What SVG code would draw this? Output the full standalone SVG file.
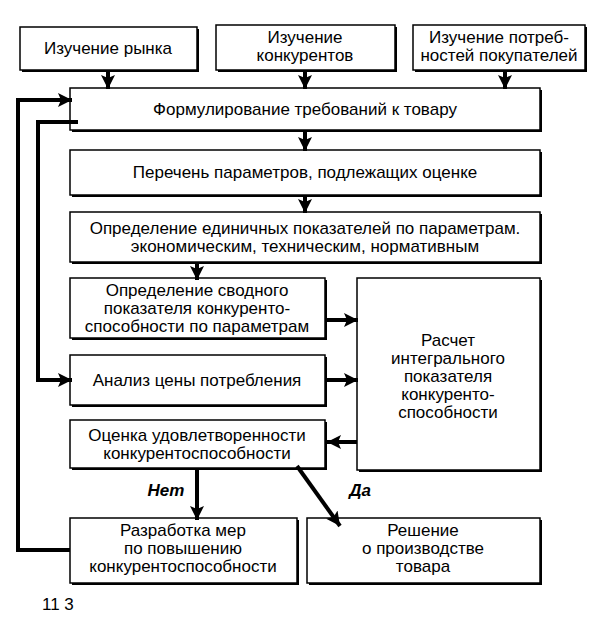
<svg xmlns="http://www.w3.org/2000/svg" width="597" height="628" viewBox="0 0 597 628">
<style>
.box{fill:#fff;stroke:#000;stroke-width:1.5}
.sh{fill:#000}
text{font-family:"Liberation Sans",Arial,sans-serif;font-size:17px;fill:#000;text-anchor:middle}
.lbl{font-weight:bold;font-style:italic;font-size:17px}
.c{fill:none;stroke:#000;stroke-width:4}
</style>
<defs>
<marker id="ah" markerUnits="userSpaceOnUse" markerWidth="16" markerHeight="16" refX="14" refY="8" orient="auto">
<path d="M0,1 L14,8 L0,15 L3,8 Z" fill="#000"/>
</marker>
</defs>
<rect width="597" height="628" fill="#fff"/>
<g id="n1"><rect class="sh" x="22" y="29" width="177" height="43"/><rect class="box" x="20" y="27" width="177" height="43"/><text x="108" y="54">Изучение рынка</text></g>
<g id="n2"><rect class="sh" x="218" y="27" width="179" height="45"/><rect class="box" x="216" y="25" width="179" height="45"/><text x="305" y="43">Изучение</text><text x="305" y="61">конкурентов</text></g>
<g id="n3"><rect class="sh" x="415" y="27" width="172" height="45"/><rect class="box" x="413" y="25" width="172" height="45"/><text x="499" y="43">Изучение потреб-</text><text x="499" y="61">ностей покупателей</text></g>
<g id="n4"><rect class="sh" x="72" y="90" width="470" height="42"/><rect class="box" x="70" y="88" width="470" height="42"/><text x="305" y="115">Формулирование требований к товару</text></g>
<g id="n5"><rect class="sh" x="72" y="152" width="470" height="45"/><rect class="box" x="70" y="150" width="470" height="45"/><text x="305" y="178">Перечень параметров, подлежащих оценке</text></g>
<g id="n6"><rect class="sh" x="72" y="214" width="470" height="50"/><rect class="box" x="70" y="212" width="470" height="50"/><text x="305" y="234">Определение единичных показателей по параметрам.</text><text x="305" y="252">экономическим, техническим, нормативным</text></g>
<g id="n7"><rect class="sh" x="72" y="280" width="255" height="60"/><rect class="box" x="70" y="278" width="255" height="60"/><text x="197" y="296">Определение сводного</text><text x="197" y="314">показателя конкуренто-</text><text x="197" y="332">способности по параметрам</text></g>
<g id="n8"><rect class="sh" x="359" y="280" width="183" height="192"/><rect class="box" x="357" y="278" width="183" height="192"/><text x="448" y="346">Расчет</text><text x="448" y="364">интегрального</text><text x="448" y="382">показателя</text><text x="448" y="400">конкуренто-</text><text x="448" y="418">способности</text></g>
<g id="n9"><rect class="sh" x="72" y="357" width="255" height="50"/><rect class="box" x="70" y="355" width="255" height="50"/><text x="197" y="386">Анализ цены потребления</text></g>
<g id="n10"><rect class="sh" x="72" y="422" width="255" height="48"/><rect class="box" x="70" y="420" width="255" height="48"/><text x="197" y="441">Оценка удовлетворенности</text><text x="197" y="459">конкурентоспособности</text></g>
<g id="n11"><rect class="sh" x="72" y="520" width="227" height="65"/><rect class="box" x="70" y="518" width="227" height="65"/><text x="183" y="536">Разработка мер</text><text x="183" y="554">по повышению</text><text x="183" y="572">конкурентоспособности</text></g>
<g id="n12"><rect class="sh" x="309" y="520" width="233" height="65"/><rect class="box" x="307" y="518" width="233" height="65"/><text x="423" y="536">Решение</text><text x="423" y="554">о производстве</text><text x="423" y="572">товара</text></g>
<g id="connectors">
<path class="c" d="M108,70 V89" marker-end="url(#ah)"/>
<path class="c" d="M305,70 V89" marker-end="url(#ah)"/>
<path class="c" d="M505,70 V89" marker-end="url(#ah)"/>
<path class="c" d="M305,130 V151" marker-end="url(#ah)"/>
<path class="c" d="M305,195 V213" marker-end="url(#ah)"/>
<path class="c" d="M197,262 V280" marker-end="url(#ah)"/>
<path class="c" d="M325,320 H358" marker-end="url(#ah)"/>
<path class="c" d="M325,380 H358" marker-end="url(#ah)"/>
<path class="c" d="M357,442 H327" marker-end="url(#ah)"/>
<path class="c" d="M197,468 V520" marker-end="url(#ah)"/>
<path class="c" d="M297,466 L340,526" marker-end="url(#ah)"/>
<path class="c" d="M70,550 H18 V100 H72" marker-end="url(#ah)"/>
<path class="c" d="M78,122 H38 V380 H72" marker-end="url(#ah)"/>
</g>
<text class="lbl" x="166" y="496">Нет</text>
<text class="lbl" x="360" y="496">Да</text>
<text x="42" y="610" style="font-size:17px;text-anchor:start">11 3</text>
</svg>
